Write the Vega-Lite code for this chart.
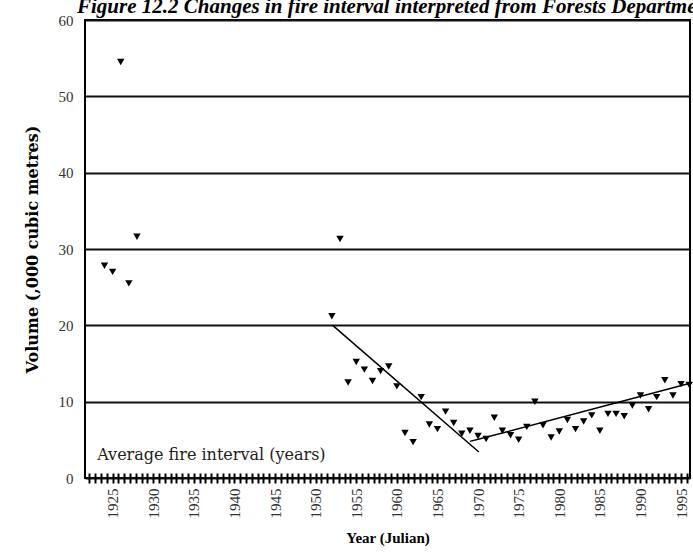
{
  "$schema": "https://vega.github.io/schema/vega-lite/v6.json",
  "autosize": "none",
  "width": 605,
  "height": 458,
  "padding": {"left": 85, "top": 20, "right": 3, "bottom": 81},
  "background": "white",
  "title": {
    "text": "Figure 12.2 Changes in fire interval interpreted from Forests Department",
    "anchor": "start",
    "frame": "group",
    "orient": "top",
    "font": "Liberation Serif",
    "fontSize": 21,
    "fontWeight": "bold",
    "fontStyle": "italic",
    "color": "black",
    "baseline": "alphabetic",
    "offset": 5,
    "dx": -8,
    "dy": 26
  },
  "config": {
    "view": {"stroke": "black", "strokeWidth": 2}
  },
  "layer": [
    {
      "data": {
        "values": [
          {"year": 1924, "volume": 27.8},
          {"year": 1925, "volume": 27.0},
          {"year": 1926, "volume": 54.5},
          {"year": 1927, "volume": 25.5},
          {"year": 1928, "volume": 31.6},
          {"year": 1952, "volume": 21.2},
          {"year": 1953, "volume": 31.3},
          {"year": 1954, "volume": 12.5},
          {"year": 1955, "volume": 15.2},
          {"year": 1956, "volume": 14.2},
          {"year": 1957, "volume": 12.7},
          {"year": 1958, "volume": 14.0},
          {"year": 1959, "volume": 14.6},
          {"year": 1960, "volume": 12.0},
          {"year": 1961, "volume": 5.9},
          {"year": 1962, "volume": 4.7},
          {"year": 1963, "volume": 10.6},
          {"year": 1964, "volume": 7.0},
          {"year": 1965, "volume": 6.4},
          {"year": 1966, "volume": 8.7},
          {"year": 1967, "volume": 7.2},
          {"year": 1968, "volume": 5.8},
          {"year": 1969, "volume": 6.2},
          {"year": 1970, "volume": 5.5},
          {"year": 1971, "volume": 5.1},
          {"year": 1972, "volume": 7.9},
          {"year": 1973, "volume": 6.2},
          {"year": 1974, "volume": 5.6},
          {"year": 1975, "volume": 5.0},
          {"year": 1976, "volume": 6.7},
          {"year": 1977, "volume": 10.0},
          {"year": 1978, "volume": 6.9},
          {"year": 1979, "volume": 5.3},
          {"year": 1980, "volume": 6.1},
          {"year": 1981, "volume": 7.6},
          {"year": 1982, "volume": 6.4},
          {"year": 1983, "volume": 7.4},
          {"year": 1984, "volume": 8.2},
          {"year": 1985, "volume": 6.2},
          {"year": 1986, "volume": 8.4},
          {"year": 1987, "volume": 8.4},
          {"year": 1988, "volume": 8.1},
          {"year": 1989, "volume": 9.5},
          {"year": 1990, "volume": 10.8},
          {"year": 1991, "volume": 9.0},
          {"year": 1992, "volume": 10.6},
          {"year": 1993, "volume": 12.8},
          {"year": 1994, "volume": 10.8},
          {"year": 1995, "volume": 12.3},
          {"year": 1996, "volume": 12.2}
        ]
      },
      "mark": {"type": "point", "shape": "triangle-down", "filled": true, "size": 55, "color": "black", "opacity": 1},
      "encoding": {
        "x": {
          "field": "year",
          "type": "quantitative",
          "scale": {"domain": [1921.6, 1996.1], "nice": false, "zero": false},
          "axis": {
            "title": "Year (Julian)",
            "titleFont": "Liberation Serif",
            "titleFontSize": 15,
            "titleFontWeight": "bold",
            "titleColor": "black",
            "titlePadding": 12,
            "offset": -5,
            "domain": false,
            "grid": false,
            "ticks": true,
            "tickCount": 500,
            "tickSize": 10,
            "tickWidth": 2,
            "tickColor": "black",
            "labelAngle": 270,
            "labelFont": "Liberation Serif",
            "labelFontSize": 15,
            "labelColor": "#333",
            "labelPadding": 5,
            "labelOverlap": false,
            "labelBound": false,
            "labelFlush": false,
            "labelExpr": "datum.value % 5 === 0 ? format(datum.value, 'd') : ''",
            "values": [1922.143, 1922.857, 1923.571, 1924.286,
              1925, 1925.714, 1926.429, 1927.143, 1927.857, 1928.571, 1929.286,
              1930, 1930.714, 1931.429, 1932.143, 1932.857, 1933.571, 1934.286,
              1935, 1935.714, 1936.429, 1937.143, 1937.857, 1938.571, 1939.286,
              1940, 1940.714, 1941.429, 1942.143, 1942.857, 1943.571, 1944.286,
              1945, 1945.714, 1946.429, 1947.143, 1947.857, 1948.571, 1949.286,
              1950, 1950.714, 1951.429, 1952.143, 1952.857, 1953.571, 1954.286,
              1955, 1955.714, 1956.429, 1957.143, 1957.857, 1958.571, 1959.286,
              1960, 1960.714, 1961.429, 1962.143, 1962.857, 1963.571, 1964.286,
              1965, 1965.714, 1966.429, 1967.143, 1967.857, 1968.571, 1969.286,
              1970, 1970.714, 1971.429, 1972.143, 1972.857, 1973.571, 1974.286,
              1975, 1975.714, 1976.429, 1977.143, 1977.857, 1978.571, 1979.286,
              1980, 1980.714, 1981.429, 1982.143, 1982.857, 1983.571, 1984.286,
              1985, 1985.714, 1986.429, 1987.143, 1987.857, 1988.571, 1989.286,
              1990, 1990.714, 1991.429, 1992.143, 1992.857, 1993.571, 1994.286,
              1995, 1995.714]
          }
        },
        "y": {
          "field": "volume",
          "type": "quantitative",
          "scale": {"domain": [0, 60], "nice": false},
          "axis": {
            "title": "Volume (,000 cubic metres)",
            "titleFont": "DejaVu Serif",
            "titleFontSize": 16,
            "titleFontWeight": "bold",
            "titleColor": "black",
            "titlePadding": 18,
            "values": [0, 10, 20, 30, 40, 50, 60],
            "domain": false,
            "ticks": false,
            "grid": true,
            "gridColor": "#111",
            "gridWidth": 2,
            "gridOpacity": 1,
            "labelFont": "Liberation Serif",
            "labelFontSize": 15,
            "labelColor": "#333",
            "labelPadding": 12
          }
        }
      }
    },
    {
      "data": {
        "values": [
          {"segment": "decline", "year": 1952.1, "volume": 20.0},
          {"segment": "decline", "year": 1970.1, "volume": 3.4},
          {"segment": "recovery", "year": 1969.0, "volume": 4.8},
          {"segment": "recovery", "year": 1970.5, "volume": 5.2},
          {"segment": "recovery", "year": 1996.1, "volume": 12.4}
        ]
      },
      "mark": {"type": "line", "color": "black", "strokeWidth": 1.5},
      "encoding": {
        "x": {"field": "year", "type": "quantitative"},
        "y": {"field": "volume", "type": "quantitative"},
        "detail": {"field": "segment"}
      }
    },
    {
      "data": {
        "values": [
          {"label": "Average fire interval (years)", "year": 1923.1, "volume": 3.0}
        ]
      },
      "mark": {"type": "text", "align": "left", "baseline": "middle", "font": "DejaVu Serif", "fontSize": 16, "color": "#222"},
      "encoding": {
        "x": {"field": "year", "type": "quantitative"},
        "y": {"field": "volume", "type": "quantitative"},
        "text": {"field": "label"}
      }
    }
  ]
}
